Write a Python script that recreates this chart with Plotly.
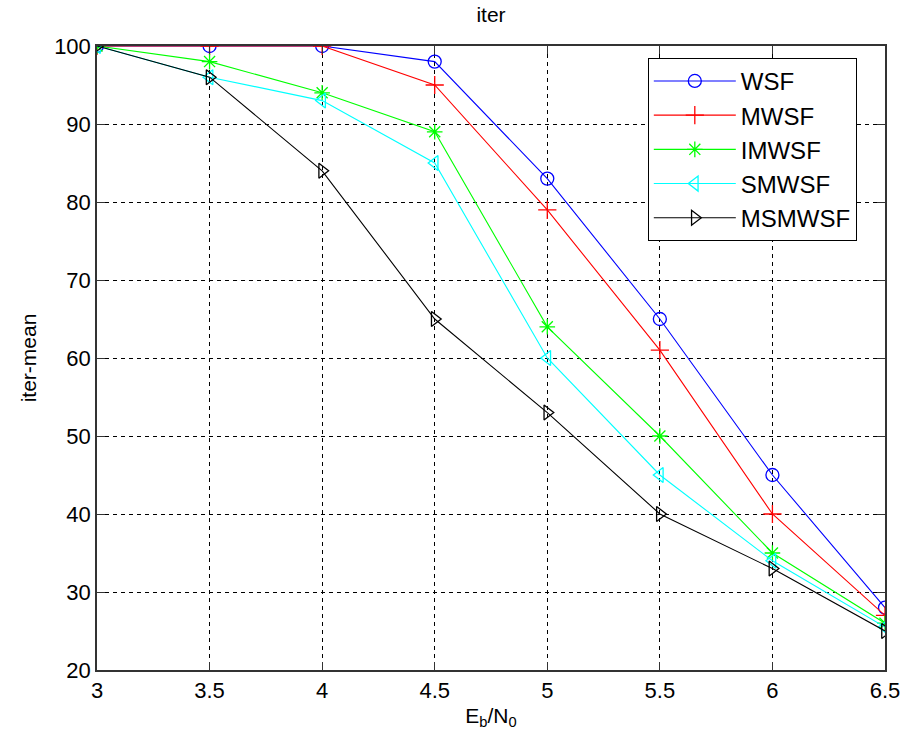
import plotly.graph_objects as go

x = [3, 3.5, 4, 4.5, 5, 5.5, 6, 6.5]
wsf = [100, 100, 100, 98, 83, 65, 45, 28]
mwsf = [100, 100, 100, 95, 79, 61, 40, 27]
imwsf = [100, 98, 94, 89, 64, 50, 35, 26]
smwsf = [100, 96, 93, 85, 60, 45, 34, 25.5]
msmwsf = [100, 96, 84, 65, 53, 40, 33, 25]

series = [
    ("WSF", wsf, "#0000ff", "circle-open"),
    ("MWSF", mwsf, "#ff0000", "cross-thin-open"),
    ("IMWSF", imwsf, "#00ff00", "asterisk-open"),
    ("SMWSF", smwsf, "#00ffff", "triangle-left-open"),
    ("MSMWSF", msmwsf, "#000000", "triangle-right-open"),
]

fig = go.Figure()
for name, y, c, sym in series:
    fig.add_trace(go.Scatter(
        x=x, y=y, name=name, mode="lines+markers",
        line=dict(color=c, width=1.1),
        marker=dict(symbol=sym, size=13, color=c, line=dict(color=c, width=1.3)),
    ))

FAM = "Liberation Sans, Arial, sans-serif"
font = dict(family=FAM, size=22, color="#000")
tfont = dict(family=FAM, size=21, color="#000")
axis_common = dict(
    showline=True, linecolor="#333", linewidth=1.5, mirror="ticks",
    ticks="inside", ticklen=8, tickcolor="#333",
    showgrid=True, gridcolor="#000", gridwidth=1, griddash="4px,4px",
    zeroline=False, tickfont=font, automargin=False,
)
fig.update_xaxes(range=[3, 6.5], tickvals=[3, 3.5, 4, 4.5, 5, 5.5, 6, 6.5],
                 ticktext=["3", "3.5", "4", "4.5", "5", "5.5", "6", "6.5"],
                 title=dict(text="E<sub>b</sub>/N<sub>0</sub>", font=tfont, standoff=6),
                 **axis_common)
fig.update_yaxes(range=[20, 100], tickvals=list(range(20, 101, 10)),
                 title=dict(text="iter-mean", font=tfont, standoff=12),
                 **axis_common)

fig.update_layout(
    width=901, height=743,
    margin=dict(l=97, r=16, t=46, b=73),
    paper_bgcolor="white", plot_bgcolor="white",
    font=font,
    title=dict(text="iter", x=(97 + 885) / 2 / 901, xanchor="center", y=1 - 15 / 743, yanchor="middle",
               font=dict(family=FAM, size=21, color="#000")),
    legend=dict(x=0.699, y=0.981, xanchor="left", yanchor="top",
                bgcolor="white", bordercolor="#000", borderwidth=1,
                itemwidth=82, font=dict(family=FAM, size=24, color="#000"),
                tracegroupgap=0),
    showlegend=True,
)

fig.write_html("out.html")
